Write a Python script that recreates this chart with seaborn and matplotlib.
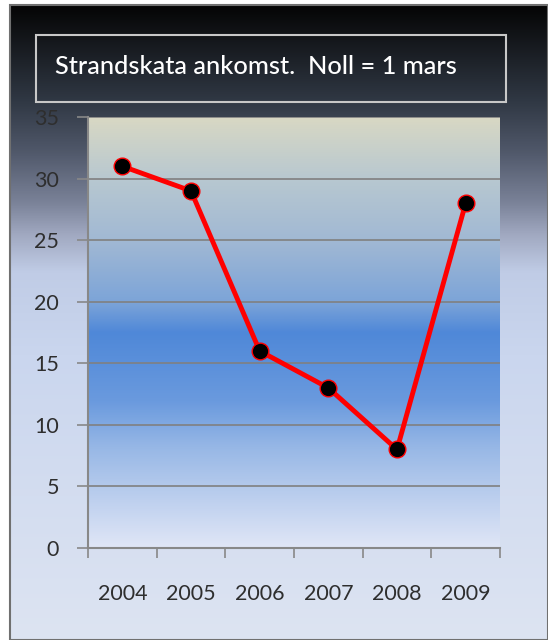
import numpy as np
import pandas as pd
import matplotlib
matplotlib.use('Agg')
import matplotlib.pyplot as plt
from matplotlib.colors import LinearSegmentedColormap
from matplotlib.patches import Rectangle
import seaborn as sns

# data
years = ['2004', '2005', '2006', '2007', '2008', '2009']
days_after_march1 = [31, 29, 16, 13, 8, 28]
y_ticks = [0, 5, 10, 15, 20, 25, 30, 35]
title_text = 'Strandskata ankomst.  Noll = 1 mars'

df = pd.DataFrame({'year': years, 'days': days_after_march1})

sns.set_theme(style='white')
plt.rcParams['font.family'] = ['Lato', 'DejaVu Sans']

fig = plt.figure(figsize=(5.48, 6.40), dpi=100)
fig.patch.set_facecolor('white')

# figure background gradient (dark at top, light blue at bottom)
bg = fig.add_axes([10 / 548, 0, 538 / 548, 635 / 640], zorder=-2)
bg_cmap = LinearSegmentedColormap.from_list('bg', [
    (0.0, '#050505'), (0.15, '#303844'), (0.23, '#50586a'),
    (0.31, '#7a8298'), (0.36, '#a0a8c0'), (0.42, '#c0cce6'),
    (0.55, '#cad6ee'), (1.0, '#dde4f2')])
bg.imshow(np.linspace(0, 1, 256).reshape(-1, 1), aspect='auto', cmap=bg_cmap,
          extent=[0, 1, 1, 0])
bg.set_xlim(0, 1)
bg.set_ylim(1, 0)
bg.axis('off')
fig.add_artist(Rectangle((10 / 548, 0), 538 / 548, 635 / 640, transform=fig.transFigure,
                         fill=False, edgecolor='#707070', linewidth=1.5, zorder=5))

# title box
fig.add_artist(Rectangle((36 / 548, (640 - 102) / 640), 470 / 548, 67 / 640,
                         transform=fig.transFigure, fill=False,
                         edgecolor='#c8c8c8', linewidth=1.5))
fig.text(55 / 548, (640 - 66) / 640, title_text, color='white', fontsize=18.3,
         fontweight='medium', va='center', ha='left')

ax = fig.add_axes([88 / 548, 92 / 640, 412 / 548, 431 / 640])
ax.set_facecolor('none')

plot_cmap = LinearSegmentedColormap.from_list('pl', [
    (0.0, '#d8d8c4'), (0.14, '#b8c8d0'), (0.29, '#a0b8d4'),
    (0.43, '#7ca4d8'), (0.50, '#4f88d8'), (0.66, '#6a9ade'),
    (0.77, '#98b8e6'), (0.91, '#c4d4f0'), (1.0, '#e0e6f6')])
ax.imshow(np.linspace(0, 1, 256).reshape(-1, 1), aspect='auto', cmap=plot_cmap,
          extent=[-0.5, 5.5, 0, 35], zorder=0)

for v in y_ticks[1:]:
    ax.axhline(v, color='#808080', linewidth=1.2, zorder=1)

sns.lineplot(data=df, x='year', y='days', ax=ax, color='red', linewidth=3.5,
             marker='o', markersize=12, markerfacecolor='black',
             markeredgecolor='red', markeredgewidth=1, zorder=3)

ax.set_xlim(-0.5, 5.5)
ax.set_ylim(0, 35)
ax.set_yticks(y_ticks)
ax.set_xticks(range(len(years)))
ax.set_xticklabels(years)
ax.set_xticks(np.arange(-0.5, 5.6, 1), minor=True)
ax.set_xlabel('')
ax.set_ylabel('')

for side in ['top', 'right']:
    ax.spines[side].set_visible(False)
for side in ['left', 'bottom']:
    ax.spines[side].set_color('#888888')
    ax.spines[side].set_linewidth(1.5)

ax.tick_params(axis='y', which='major', left=True, length=8, width=1.2, color='#888888',
               labelsize=15.5, labelcolor='#2e2e2e', pad=13)
ax.tick_params(axis='x', which='major', bottom=False, labelsize=15.5,
               labelcolor='#2e2e2e', pad=20)
ax.tick_params(axis='x', which='minor', bottom=True, length=7, width=1.2, color='#888888')

fig.savefig('out.png', dpi=100)
